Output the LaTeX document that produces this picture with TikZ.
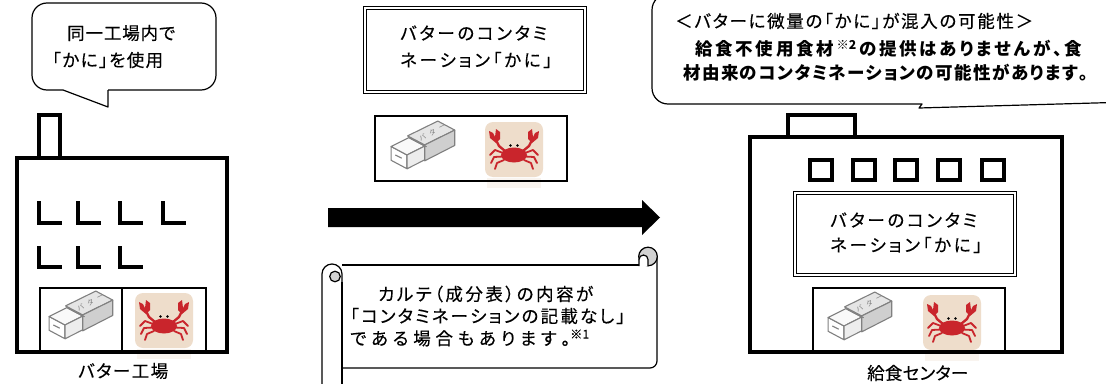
\documentclass[tikz,border=0pt]{standalone}
\usepackage{fontspec}
\setmainfont{Noto Sans CJK JP}[RawFeature=+palt]
\makeatletter
\newcommand\spr[2]{\makebox[#1][s]{\@tfor\spr@t:=#2\do{\spr@t\hskip0pt plus1fil minus1fil}\unskip}}
\makeatother
\definecolor{crabred}{HTML}{C9252C}
\definecolor{crabbg}{HTML}{EEDDCB}
\definecolor{butline}{HTML}{808080}
\newcommand\crabhalf{%
  \draw[line width=1.8pt, line cap=round, line join=round] (18,31) -- (10,28) -- (5,33);
  \draw[line width=1.8pt, line cap=round, line join=round] (18,34.5) -- (9,35) -- (6,41);
  \draw[line width=1.8pt, line cap=round, line join=round] (19,38) -- (12,41) -- (10,47);
  \draw[line width=2.4pt, line cap=round, line join=round] (20,29) -- (14,24) -- (11,18);
  \fill (11,21) -- (5,16) -- (4,9) -- (8,11) -- (10,15) -- (11,7) -- (15,10) -- (15,17) -- cycle;
}
\newcommand\crabicon[1]{%
\begin{scope}[shift={#1}]
  \fill[crabbg, opacity=0.3] (2,56) rectangle (56,66);
  \fill[crabbg, rounded corners=8pt] (0,0) rectangle (58,55);
  \begin{scope}[color=crabred]
    \crabhalf
    \begin{scope}[shift={(58,0)}, xscale=-1]\crabhalf\end{scope}
    \fill (29,33) ellipse [x radius=13, y radius=7.5];
  \end{scope}
  \fill[black] (25.5,23.5) circle (1.3) (32.5,23.5) circle (1.3);
\end{scope}}
\newcommand\buttericon[1]{%
\begin{scope}[shift={#1}, scale=1.06, color=butline, line join=round, line width=1.1pt]
  \filldraw[fill=white] (2,25) -- (17,33) -- (17,46) -- (2,38) -- cycle;
  \filldraw[fill=gray!5] (2,25) -- (18.7,16.6) -- (33.7,24.6) -- (17,33) -- cycle;
  \filldraw[fill=gray!14] (17,33) -- (33.7,24.6) -- (33.7,37.6) -- (17,46) -- cycle;
  \filldraw[fill=gray!20] (17.5,15) -- (46,1) -- (62,9.5) -- (33.7,23.5) -- cycle;
  \filldraw[fill=gray!38] (33.7,23.5) -- (62,9.5) -- (62,24) -- (33.7,38.5) -- cycle;
  \draw (19.5,17) -- (35.5,25.2);
  \node[rotate=27, inner sep=0pt, font=\fontsize{7}{7}\selectfont, text=butline] (bta) at (31.5,16.5) {バ};
  \node[rotate=27, inner sep=0pt, font=\fontsize{7}{7}\selectfont, text=butline] (btb) at (41,11.7) {タ};
  \node[rotate=27, inner sep=0pt, font=\fontsize{7}{7}\selectfont, text=butline] (btc) at (50.5,6.9) {ー};
  \draw (6,33) -- (12,36);
\end{scope}}
\tikzset{
  bld/.style={line width=3.6pt, line join=miter},
  thinbox/.style={line width=1.3pt},
  imgbox/.style={line width=2pt},
  dbl/.style={double, double distance=1.6pt, line width=0.8pt},
  txt/.style={anchor=west, inner sep=0pt, font=\fontsize{17.5}{20}\selectfont\addfontfeature{FakeBold=0.3}},
  btxt/.style={anchor=west, inner sep=0pt, font=\fontsize{17.5}{20}\selectfont\bfseries},
  scr/.style={line width=1.2pt, line join=round},
  call/.style={line width=1.2pt, line join=round},
}
\begin{document}
\begin{tikzpicture}[x=1pt, y=-1pt]
\clip (0,0) rectangle (1106,383);
\fill[white] (0,0) rectangle (1106,383);

% ---------- left callout ----------
\draw[call, rounded corners=15pt] (108,90) -- (216,90) -- (216,3) -- (32,3) -- (32,90) -- (63,90);
\draw[call] (63,90) -- (108,107) -- (108,90);
\node[txt] (c1a) at (67,33) {\spr{108pt}{同一工場内で}};
\node[txt] (c1b) at (52,60) {\spr{111pt}{「かに」を使用}};

% ---------- left factory ----------
\buttericon{(47,290)}
\crabicon{(135,293)}
\draw[bld] (17,158) rectangle (227,352);
\draw[bld] (39,158) -- (39,115) -- (60,115) -- (60,158);
\foreach \x in {39,78,120,163} \draw[bld] (\x,201) -- (\x,223) -- (\x+23,223);
\foreach \x in {39,78,120} \draw[bld] (\x,246) -- (\x,267) -- (\x+23,267);
\draw[thinbox] (40,352) -- (40,288) -- (206,288) -- (206,352);
\draw[thinbox] (122,288) -- (122,352);
\node[txt] (lab1) at (78,371) {\spr{90pt}{バター工場}};

% ---------- middle ----------
\draw[dbl] (365,8) rectangle (585,92);
\node[txt] (m1) at (400,33) {\spr{147pt}{バターのコンタミ}};
\node[txt] (m2) at (400,60) {\spr{152pt}{ネーション「かに」}};
\buttericon{(389,120)}
\crabicon{(485,122)}
\draw[imgbox] (375,116) rectangle (567,181);

% big arrow
\fill (328,208) -- (642,208) -- (642,200) -- (660,217.5) -- (642,235) -- (642,227) -- (328,227) -- cycle;

% scroll
\draw[scr] (342,265) -- (639,265);
\draw[scr] (657,257) -- (657,361) arc[start angle=0, end angle=90, radius=7] -- (342,368);
\draw[scr, fill=gray!35] (648,256.5) circle (9.3);
\draw[scr, fill=white] (639,266) -- (639,259.5) arc[start angle=180, end angle=360, radius=4.5] -- (648,266);
\draw[scr, fill=white] (342,390) -- (342,274) arc[start angle=360, end angle=180, radius=10] -- (322,390);
\draw[scr, fill=gray!35] (335,276.5) circle (5.3);
\draw[scr] (342,282) -- (342,390);
\node[txt] (s1) at (378,294) {\spr{215pt}{カルテ（成分表）の内容が}};
\node[txt] (s2) at (350,316) {\spr{275pt}{「コンタミネーションの記載なし」}};
\node[txt] (s3) at (350,338) {\spr{220pt}{である場合もあります。}\textsuperscript{※1}};

% ---------- right callout ----------
\draw[call] (1112,102.5) -- (919,108) -- (922,104) [rounded corners=16pt] -- (652,104) -- (652,-6) -- (700,-6);
\draw[call] (690,-6) -- (1112,-6);
\node[txt] (r0) at (675,21) {\spr{358pt}{＜バターに微量の「かに」が混入の可能性＞}};
\node[btxt] (r1) at (695,49) {\spr{387pt}{給食不使用食材{\textsuperscript{※2}}の提供はありませんが、食}};
\node[btxt] (r2) at (683,73) {\spr{405pt}{材由来のコンタミネーションの可能性があります。}};

% ---------- right building ----------
\buttericon{(826,291)}
\crabicon{(923,295)}
\draw[bld] (750,137) rectangle (1062,352);
\draw[bld] (788,137) -- (788,115) -- (855,115) -- (855,137);
\foreach \x in {810,853,895,938,982} \draw[bld] (\x,160) rectangle (\x+22,180);
\draw[dbl] (795,193) rectangle (1015,275);
\node[txt] (b1) at (830,220) {\spr{147pt}{バターのコンタミ}};
\node[txt] (b2) at (830,245) {\spr{152pt}{ネーション「かに」}};
\draw[imgbox] (813,352) -- (813,288) -- (1005,288) -- (1005,352);
\node[txt] (lab2) at (867,373) {\spr{101pt}{給食センター}};
\end{tikzpicture}
\end{document}
